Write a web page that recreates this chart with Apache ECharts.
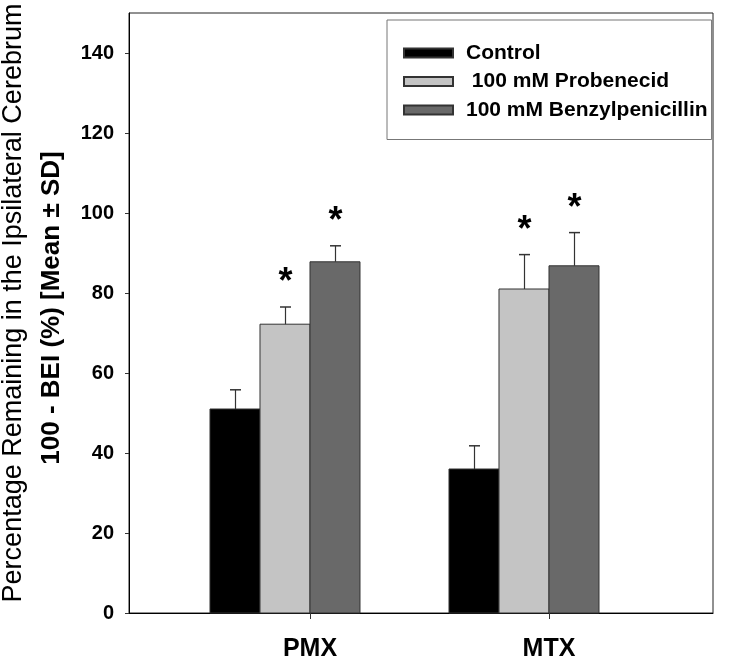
<!DOCTYPE html>
<html>
<head>
<meta charset="utf-8">
<script src="https://cdn.jsdelivr.net/npm/echarts@6/dist/echarts.min.js"></script>
<style>
html,body{margin:0;padding:0;background:#fff;}
#chart{width:731px;height:658px;}
</style>
</head>
<body>
<div id="chart"></div>
<script>
// ---- data ----
const categories = ['PMX', 'MTX'];
const seriesNames = ['Control', ' 100 mM Probenecid', '100 mM Benzylpenicillin'];
const controlMean = [51, 36];
const controlSD = [4.8, 5.8];
const probenecidMean = [72.2, 81];
const probenecidSD = [4.3, 8.6];
const benzylMean = [87.8, 86.8];
const benzylSD = [4.0, 8.3];
const controlSig = [0, 0];
const probenecidSig = [1, 1];
const benzylSig = [1, 1];
const yTicks = [0, 20, 40, 60, 80, 100, 120, 140];
const yMax = 150;
const yTitle1 = 'Percentage Remaining in the Ipsilateral Cerebrum';
const yTitle2 = '100 - BEI (%) [Mean \u00b1 SD]';

const colors = ['#000000', '#c4c4c4', '#696969'];
const BW = 0.2092; // bar width in x-axis units
const catPos = categories.map((c, i) => i + 1);

function buildData(mean, sd, sig) {
  return categories.map((c, i) => [catPos[i], mean[i], sd[i], sig[i]]);
}
const allData = [
  buildData(controlMean, controlSD, controlSig),
  buildData(probenecidMean, probenecidSD, probenecidSig),
  buildData(benzylMean, benzylSD, benzylSig)
];

function makeRender(idx) {
  return function (params, api) {
    const x = api.value(0), v = api.value(1), sd = api.value(2), sig = api.value(3);
    const xl = x + (idx - 2) * BW, xr = xl + BW;
    const p0 = api.coord([xl, v]);
    const p1 = api.coord([xr, 0]);
    const pt = api.coord([xl + BW / 2, v + sd]);
    const cx = Math.round((p0[0] + p1[0]) / 2) + 0.5;
    const children = [
      {type: 'rect', shape: {x: p0[0], y: p0[1], width: p1[0] - p0[0], height: p1[1] - p0[1]},
       style: {fill: colors[idx], stroke: '#333', lineWidth: 1}},
      {type: 'line', shape: {x1: cx, y1: p0[1], x2: cx, y2: pt[1]}, style: {stroke: '#333', lineWidth: 1.2}},
      {type: 'line', shape: {x1: cx - 5.5, y1: pt[1], x2: cx + 5.5, y2: pt[1]}, style: {stroke: '#333', lineWidth: 1.5}}
    ];
    if (sig) {
      children.push({type: 'text', x: cx, y: pt[1] - 23.5,
        style: {text: '*', fill: '#000', font: 'bold 36px "Liberation Sans", Arial, sans-serif', align: 'center', verticalAlign: 'middle'}});
    }
    return {type: 'group', children: children};
  };
}

const chart = echarts.init(document.getElementById('chart'), null, {renderer: 'canvas'});
const FONT = '"Liberation Sans", Arial, sans-serif';
chart.setOption({
  animation: false,
  backgroundColor: '#fff',
  grid: {left: 129, top: 13, width: 584, height: 600, show: true, borderColor: '#222', borderWidth: 1,
         backgroundColor: 'transparent', containLabel: false, outerBoundsMode: 'none'},
  legend: {
    orient: 'vertical', left: 387, top: 20,
    padding: [22.5, 4, 19, 16],
    itemWidth: 49, itemHeight: 9, itemGap: 7.5,
    selectedMode: false,
    borderColor: '#777', borderWidth: 1, backgroundColor: '#fff',
    icon: 'rect',
    textStyle: {fontFamily: FONT, fontWeight: 'bold', fontSize: 21, color: '#000', padding: [0, 0, 0, 8]},
    data: seriesNames
  },
  xAxis: {
    type: 'value', min: 0.2427, max: 2.6862,
    splitLine: {show: false},
    axisLine: {show: true, lineStyle: {color: '#000', width: 1}},
    axisTick: {show: true, customValues: catPos, length: 6, lineStyle: {color: '#333'}},
    axisLabel: {customValues: catPos, formatter: v => categories[Math.round(v) - 1], margin: 24,
      fontFamily: FONT, fontWeight: 'bold', fontSize: 25, color: '#000'}
  },
  yAxis: {
    type: 'value', min: 0, max: yMax,
    splitLine: {show: false},
    axisLine: {show: true, lineStyle: {color: '#000', width: 1}},
    axisTick: {show: true, customValues: yTicks, length: 4, lineStyle: {color: '#333'}},
    axisLabel: {customValues: yTicks, margin: 15, fontFamily: FONT, fontWeight: 'bold', fontSize: 20, color: '#000'}
  },
  graphic: [
    {type: 'text', x: 14, y: 303, rotation: Math.PI / 2,
     style: {text: yTitle1, font: '27px "Liberation Sans", Arial, sans-serif', fill: '#000', align: 'center', verticalAlign: 'middle'}},
    {type: 'text', x: 52, y: 308, rotation: Math.PI / 2,
     style: {text: yTitle2, font: 'bold 26px "Liberation Sans", Arial, sans-serif', fill: '#000', align: 'center', verticalAlign: 'middle'}}
  ],
  series: seriesNames.map((name, idx) => ({
    type: 'custom', name: name,
    itemStyle: {color: colors[idx], borderColor: '#333', borderWidth: 1},
    renderItem: makeRender(idx),
    encode: {x: 0, y: 1},
    data: allData[idx]
  }))
});
</script>
</body>
</html>
